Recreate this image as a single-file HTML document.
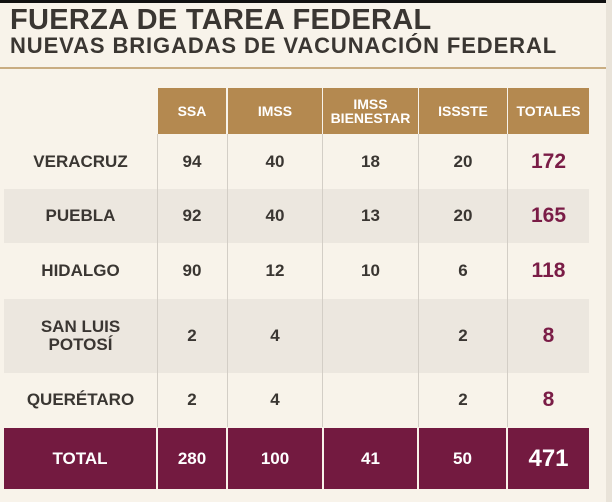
<!DOCTYPE html>
<html><head><meta charset="utf-8"><style>
body{margin:0;width:612px;height:502px;overflow:hidden;background:#f8f3ea;font-family:"Liberation Sans",sans-serif;position:relative}
.a{position:absolute}
.t{position:absolute;display:flex;align-items:center;justify-content:center;text-align:center;font-weight:bold;color:#3a3632;font-size:17px;line-height:18px}
.h{color:#fff;background:#b48950;font-size:14px;line-height:14px}
.m{color:#7a1c46;font-size:21px}
.f{color:#fff;background:#731a40;font-size:17px}
.v{position:absolute;width:1px;background:#d3cec6;top:134px;height:293px}
</style></head><body>
<div class="a" style="left:0;top:0;width:612px;height:3px;background:#111"></div>
<div class="a" style="left:606px;top:0;width:6px;height:502px;background:#e9e3d9"></div>
<div class="a" style="left:10px;top:4px;font-size:29px;font-weight:bold;color:#3a3632;letter-spacing:0.3px">FUERZA DE TAREA FEDERAL</div>
<div class="a" style="left:10px;top:33px;font-size:22px;font-weight:bold;color:#3a3632;letter-spacing:0.9px">NUEVAS BRIGADAS DE VACUNACIÓN FEDERAL</div>
<div class="a" style="left:0;top:67px;width:606px;height:2px;background:#c9ad82"></div>
<div class="a" style="left:4px;top:189px;width:585px;height:54px;background:#ece7df"></div>
<div class="a" style="left:4px;top:299px;width:585px;height:74px;background:#ece7df"></div>
<div class="v" style="left:157px"></div><div class="v" style="left:227px"></div><div class="v" style="left:322px"></div><div class="v" style="left:418px"></div><div class="v" style="left:507px"></div>
<div class="t h" style="left:158px;top:88px;width:68px;height:46px">SSA</div>
<div class="t h" style="left:228px;top:88px;width:94px;height:46px">IMSS</div>
<div class="t h" style="left:323px;top:88px;width:95px;height:46px">IMSS<br>BIENESTAR</div>
<div class="t h" style="left:419px;top:88px;width:88px;height:46px">ISSSTE</div>
<div class="t h" style="left:508px;top:88px;width:81px;height:46px">TOTALES</div>

<div class="t" style="left:4px;top:135px;width:153px;height:54px">VERACRUZ</div>
<div class="t" style="left:158px;top:135px;width:68px;height:54px">94</div>
<div class="t" style="left:228px;top:135px;width:94px;height:54px">40</div>
<div class="t" style="left:323px;top:135px;width:95px;height:54px">18</div>
<div class="t" style="left:419px;top:135px;width:88px;height:54px">20</div>
<div class="t m" style="left:508px;top:135px;width:81px;height:54px">172</div>

<div class="t" style="left:4px;top:189px;width:153px;height:54px">PUEBLA</div>
<div class="t" style="left:158px;top:189px;width:68px;height:54px">92</div>
<div class="t" style="left:228px;top:189px;width:94px;height:54px">40</div>
<div class="t" style="left:323px;top:189px;width:95px;height:54px">13</div>
<div class="t" style="left:419px;top:189px;width:88px;height:54px">20</div>
<div class="t m" style="left:508px;top:189px;width:81px;height:54px">165</div>

<div class="t" style="left:4px;top:243px;width:153px;height:56px">HIDALGO</div>
<div class="t" style="left:158px;top:243px;width:68px;height:56px">90</div>
<div class="t" style="left:228px;top:243px;width:94px;height:56px">12</div>
<div class="t" style="left:323px;top:243px;width:95px;height:56px">10</div>
<div class="t" style="left:419px;top:243px;width:88px;height:56px">6</div>
<div class="t m" style="left:508px;top:243px;width:81px;height:56px">118</div>

<div class="t" style="left:4px;top:299px;width:153px;height:74px">SAN LUIS<br>POTOSÍ</div>
<div class="t" style="left:158px;top:299px;width:68px;height:74px">2</div>
<div class="t" style="left:228px;top:299px;width:94px;height:74px">4</div>
<div class="t" style="left:419px;top:299px;width:88px;height:74px">2</div>
<div class="t m" style="left:508px;top:299px;width:81px;height:74px">8</div>

<div class="t" style="left:4px;top:373px;width:153px;height:54px">QUERÉTARO</div>
<div class="t" style="left:158px;top:373px;width:68px;height:54px">2</div>
<div class="t" style="left:228px;top:373px;width:94px;height:54px">4</div>
<div class="t" style="left:419px;top:373px;width:88px;height:54px">2</div>
<div class="t m" style="left:508px;top:373px;width:81px;height:54px">8</div>

<div class="t f" style="left:4px;top:428px;width:152px;height:61px">TOTAL</div>
<div class="t f" style="left:158px;top:428px;width:68px;height:61px">280</div>
<div class="t f" style="left:228px;top:428px;width:94px;height:61px">100</div>
<div class="t f" style="left:324px;top:428px;width:93px;height:61px">41</div>
<div class="t f" style="left:419px;top:428px;width:87px;height:61px">50</div>
<div class="t f" style="left:508px;top:428px;width:81px;height:61px;font-size:24px">471</div>
</body></html>
